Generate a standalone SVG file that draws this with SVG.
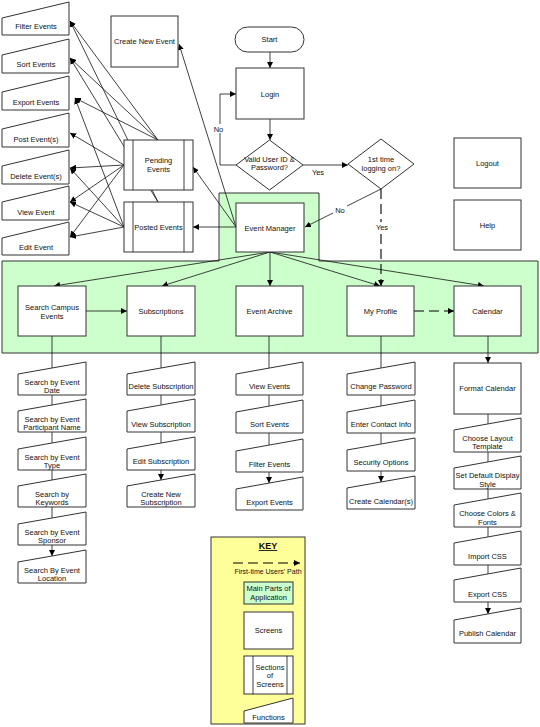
<svg xmlns="http://www.w3.org/2000/svg" width="540" height="727" viewBox="0 0 540 727">
<style>
.t{font-family:"Liberation Sans",Arial,sans-serif;font-size:7.5px;text-anchor:middle;fill:#111}
.b{fill:#fff;stroke:#333;stroke-width:1}
.g{fill:#ccffcc;stroke:#333;stroke-width:1}
.l{fill:none;stroke:#111;stroke-width:0.8}
.a{fill:none;stroke:#111;stroke-width:0.8;marker-end:url(#ah)}
.d{stroke:#000;stroke-width:1.1;stroke-dasharray:10,5}
.lbl{fill:#fff}
</style>
<defs>
<marker id="ah" viewBox="0 0 10 10" refX="10" refY="5" markerWidth="6" markerHeight="6" orient="auto" markerUnits="userSpaceOnUse"><path d="M0,0 L10,5 L0,10 z" fill="#000"/></marker>
</defs>
<rect width="540" height="727" fill="#fff"/>
<!-- green band -->
<g id="main-parts">
<path class="g" d="M2,261 H219 V193 H319 V261 H538 V353 H2 Z"/>
</g>
<!-- connectors -->
<g id="connectors">
<!-- column lines -->
<line class="a" x1="52" y1="336" x2="52" y2="556"/>
<line class="a" x1="161" y1="336" x2="161" y2="480"/>
<line class="a" x1="269" y1="336" x2="269" y2="483"/>
<line class="a" x1="381" y1="336" x2="381" y2="482"/>
<line class="a" x1="488" y1="336" x2="488" y2="363"/>
<line class="a" x1="488" y1="414" x2="488" y2="614"/>
<!-- posted events top lines (behind pending) -->
<line class="a" x1="158" y1="202" x2="70" y2="21"/>
<line class="a" x1="158" y1="202" x2="70" y2="58"/>
<!-- pending top -->
<line class="a" x1="158" y1="140" x2="70" y2="21"/>
<line class="a" x1="158" y1="140" x2="70" y2="58"/>
<line class="a" x1="158" y1="140" x2="75" y2="98"/>
<!-- pending left -->
<line class="a" x1="124" y1="165" x2="70" y2="133"/>
<line class="a" x1="124" y1="165" x2="70" y2="168"/>
<line class="a" x1="124" y1="165" x2="70" y2="202"/>
<line class="a" x1="124" y1="165" x2="70" y2="237"/>
<!-- posted left -->
<line class="a" x1="124" y1="227" x2="75" y2="98"/>
<line class="a" x1="124" y1="227" x2="70" y2="168"/>
<line class="a" x1="124" y1="227" x2="70" y2="202"/>
<line class="a" x1="124" y1="227" x2="70" y2="237"/>
<!-- event manager left -->
<line class="a" x1="236" y1="227" x2="179" y2="44"/>
<line class="a" x1="236" y1="227" x2="193" y2="167"/>
<line class="a" x1="236" y1="227" x2="193" y2="227"/>
<!-- start/login flow -->
<line class="a" x1="270" y1="52" x2="270" y2="68"/>
<line class="a" x1="270" y1="119" x2="270" y2="140"/>
<polyline class="a" points="236,165 220,165 220,94 236,94"/>
<line class="a" x1="303" y1="165" x2="348" y2="165"/>
<line class="a" x1="381" y1="189" x2="305" y2="227"/>
<line class="a d" x1="381" y1="189" x2="381" y2="286"/>
<!-- event manager to main parts -->
<line class="a" x1="270" y1="252" x2="54" y2="286"/>
<line class="a" x1="270" y1="252" x2="162" y2="286"/>
<line class="a" x1="270" y1="252" x2="270" y2="286"/>
<line class="a" x1="270" y1="252" x2="380" y2="286"/>
<line class="a" x1="270" y1="252" x2="484" y2="286"/>
<line class="a" x1="86" y1="311" x2="127" y2="311"/>
<line class="a d" x1="414" y1="311" x2="454" y2="311"/>
<!-- labels -->
<rect class="lbl" x="212" y="124" width="13" height="9"/>
<text class="t" x="218.5" y="131.5">No</text>
<text class="t" x="318" y="174.5">Yes</text>
<rect class="lbl" x="333" y="205" width="14" height="9"/>
<text class="t" x="340" y="212.5">No</text>
<rect class="lbl" x="374" y="222" width="16" height="9"/>
<text class="t" x="382" y="229.5">Yes</text>
</g>
<!-- left function boxes -->
<g id="f-filter"><path class="b" d="M2,18 L69,2 L69,35 L2,35 Z"/><text class="t" x="36" y="28.5">Filter Events</text></g>
<g id="f-sort"><path class="b" d="M2,55 L69,39 L69,73 L2,73 Z"/><text class="t" x="36" y="66.5">Sort Events</text></g>
<g id="f-export"><path class="b" d="M2,92 L69,76 L69,110 L2,110 Z"/><text class="t" x="36" y="104.5">Export Events</text></g>
<g id="f-post"><path class="b" d="M2,129 L69,113 L69,147 L2,147 Z"/><text class="t" x="36" y="141.5">Post Event(s)</text></g>
<g id="f-delete"><path class="b" d="M2,166 L69,150 L69,184 L2,184 Z"/><text class="t" x="36" y="178.5">Delete Event(s)</text></g>
<g id="f-view"><path class="b" d="M2,202 L69,186 L69,220 L2,220 Z"/><text class="t" x="36" y="214.5">View Event</text></g>
<g id="f-edit"><path class="b" d="M2,238 L69,222 L69,255 L2,255 Z"/><text class="t" x="36" y="249.5">Edit Event</text></g>
<!-- sections -->
<g id="pending"><rect class="b" x="124" y="140" width="69" height="50"/><line class="l" x1="133" y1="140" x2="133" y2="190"/><line class="l" x1="184" y1="140" x2="184" y2="190"/><text class="t" x="158.5" y="162.5">Pending</text><text class="t" x="158.5" y="171.5">Events</text></g>
<g id="posted"><rect class="b" x="124" y="202" width="69" height="50"/><line class="l" x1="133" y1="202" x2="133" y2="252"/><line class="l" x1="184" y1="202" x2="184" y2="252"/><text class="t" x="158.5" y="229.5">Posted Events</text></g>
<!-- screens -->
<g id="create-new"><rect class="b" x="111" y="16" width="67" height="51"/><text class="t" x="144.5" y="43.5">Create New Event</text></g>
<g id="start"><rect class="b" x="235" y="27" width="69" height="25" rx="12.5"/><text class="t" x="269.5" y="41.5">Start</text></g>
<g id="login"><rect class="b" x="236" y="68" width="68" height="51"/><text class="t" x="270" y="96.5">Login</text></g>
<g id="valid"><path class="b" d="M269.5,140 L303,165 L269.5,190 L236,165 Z"/><text class="t" x="269.5" y="161.5">Valid User ID &amp;</text><text class="t" x="269.5" y="169.5">Password?</text></g>
<g id="first-time"><path class="b" d="M381,139 L414,164 L381,189 L348,164 Z"/><text class="t" x="381" y="161.5">1st time</text><text class="t" x="381" y="170.5">logging on?</text></g>
<g id="event-manager"><rect class="b" x="236" y="203" width="68" height="49"/><text class="t" x="270" y="230.5">Event Manager</text></g>
<g id="logout"><rect class="b" x="454" y="138" width="67" height="50"/><text class="t" x="487.5" y="165.5">Logout</text></g>
<g id="help"><rect class="b" x="454" y="200" width="67" height="50"/><text class="t" x="487.5" y="227.5">Help</text></g>
<!-- main parts boxes -->
<g id="search-campus"><rect class="b" x="18" y="286" width="68" height="50"/><text class="t" x="52" y="309.5">Search Campus</text><text class="t" x="52" y="318.5">Events</text></g>
<g id="subscriptions"><rect class="b" x="127" y="286" width="68" height="50"/><text class="t" x="161" y="313.5">Subscriptions</text></g>
<g id="event-archive"><rect class="b" x="236" y="286" width="67" height="50"/><text class="t" x="269.5" y="313.5">Event Archive</text></g>
<g id="my-profile"><rect class="b" x="347" y="286" width="67" height="50"/><text class="t" x="380.5" y="313.5">My Profile</text></g>
<g id="calendar"><rect class="b" x="454" y="286" width="67" height="50"/><text class="t" x="487.5" y="313.5">Calendar</text></g>
<!-- column 1 -->
<g id="c1-1"><path class="b" d="M18,374 L86,362 L86,395 L18,395 Z"/><text class="t" x="52" y="384.5">Search by Event</text><text class="t" x="52" y="392.5">Date</text></g>
<g id="c1-2"><path class="b" d="M18,411 L86,399 L86,432 L18,432 Z"/><text class="t" x="52" y="421.5">Search by Event</text><text class="t" x="52" y="429.5">Participant Name</text></g>
<g id="c1-3"><path class="b" d="M18,449 L86,437 L86,470 L18,470 Z"/><text class="t" x="52" y="459.5">Search by Event</text><text class="t" x="52" y="467.5">Type</text></g>
<g id="c1-4"><path class="b" d="M18,486 L86,474 L86,507 L18,507 Z"/><text class="t" x="52" y="496.5">Search by</text><text class="t" x="52" y="504.5">Keywords</text></g>
<g id="c1-5"><path class="b" d="M18,524 L86,512 L86,545 L18,545 Z"/><text class="t" x="52" y="534.5">Search by Event</text><text class="t" x="52" y="542.5">Sponsor</text></g>
<g id="c1-6"><path class="b" d="M18,562 L86,550 L86,583 L18,583 Z"/><text class="t" x="52" y="572.5">Search By Event</text><text class="t" x="52" y="580.5">Location</text></g>
<!-- column 2 -->
<g id="c2-1"><path class="b" d="M127,374 L195,362 L195,395 L127,395 Z"/><text class="t" x="161" y="388.5">Delete Subscription</text></g>
<g id="c2-2"><path class="b" d="M127,411 L195,399 L195,432 L127,432 Z"/><text class="t" x="161" y="426.5">View Subscription</text></g>
<g id="c2-3"><path class="b" d="M127,449 L195,437 L195,470 L127,470 Z"/><text class="t" x="161" y="463.5">Edit Subscription</text></g>
<g id="c2-4"><path class="b" d="M127,486 L195,474 L195,507 L127,507 Z"/><text class="t" x="161" y="496.5">Create New</text><text class="t" x="161" y="504.5">Subscription</text></g>
<!-- column 3 -->
<g id="c3-1"><path class="b" d="M236,374 L303,362 L303,395 L236,395 Z"/><text class="t" x="269.5" y="388.5">View Events</text></g>
<g id="c3-2"><path class="b" d="M236,412 L303,400 L303,433 L236,433 Z"/><text class="t" x="269.5" y="426.5">Sort Events</text></g>
<g id="c3-3"><path class="b" d="M236,451 L303,439 L303,472 L236,472 Z"/><text class="t" x="269.5" y="466.5">Filter Events</text></g>
<g id="c3-4"><path class="b" d="M236,489 L303,477 L303,510 L236,510 Z"/><text class="t" x="269.5" y="504.5">Export Events</text></g>
<!-- column 4 -->
<g id="c4-1"><path class="b" d="M347,374 L415,362 L415,395 L347,395 Z"/><text class="t" x="381" y="388.5">Change Password</text></g>
<g id="c4-2"><path class="b" d="M347,412 L415,400 L415,433 L347,433 Z"/><text class="t" x="381" y="426.5">Enter Contact Info</text></g>
<g id="c4-3"><path class="b" d="M347,450 L415,438 L415,471 L347,471 Z"/><text class="t" x="381" y="464.5">Security Options</text></g>
<g id="c4-4"><path class="b" d="M347,488 L415,476 L415,509 L347,509 Z"/><text class="t" x="381" y="503.5">Create Calendar(s)</text></g>
<!-- column 5 -->
<g id="format-calendar"><rect class="b" x="454" y="363" width="67" height="51"/><text class="t" x="487.5" y="390.5">Format Calendar</text></g>
<g id="c5-1"><path class="b" d="M454,430 L521,418 L521,452 L454,452 Z"/><text class="t" x="487.5" y="441">Choose Layout</text><text class="t" x="487.5" y="449">Template</text></g>
<g id="c5-2"><path class="b" d="M454,468 L521,456 L521,489 L454,489 Z"/><text class="t" x="487.5" y="478">Set Default Display</text><text class="t" x="487.5" y="486.5">Style</text></g>
<g id="c5-3"><path class="b" d="M454,505 L521,493 L521,527 L454,527 Z"/><text class="t" x="487.5" y="516">Choose Colors &amp;</text><text class="t" x="487.5" y="524.5">Fonts</text></g>
<g id="c5-4"><path class="b" d="M454,543 L521,531 L521,565 L454,565 Z"/><text class="t" x="487.5" y="558.5">Import CSS</text></g>
<g id="c5-5"><path class="b" d="M454,580 L521,568 L521,602 L454,602 Z"/><text class="t" x="487.5" y="596.5">Export CSS</text></g>
<g id="c5-6"><path class="b" d="M454,620 L521,608 L521,643 L454,643 Z"/><text class="t" x="487.5" y="635.5">Publish Calendar</text></g>
<!-- key -->
<g id="key">
<rect x="211" y="537" width="94" height="187" fill="#ffff99" stroke="#333" stroke-width="1"/>
<text class="t" x="268" y="549" style="font-size:9px;font-weight:bold;text-decoration:underline">KEY</text>
<line class="a d" x1="233" y1="563" x2="300" y2="563"/>
<text class="t" x="268" y="573.5" style="font-size:7px">First-time Users' Path</text>
<rect class="g" x="244" y="582" width="49" height="22"/>
<text class="t" x="268.5" y="591">Main Parts of</text><text class="t" x="268.5" y="600">Application</text>
<rect class="b" x="244" y="612" width="49" height="37"/>
<text class="t" x="268.5" y="633">Screens</text>
<rect class="b" x="244" y="656" width="49" height="38"/>
<line class="l" x1="253" y1="656" x2="253" y2="694"/><line class="l" x1="287" y1="656" x2="287" y2="694"/>
<text class="t" x="270" y="669.5">Sections</text><text class="t" x="270" y="678">of</text><text class="t" x="270" y="686.5">Screens</text>
<path class="b" d="M244,711 L293,698 L293,723 L244,723 Z"/>
<text class="t" x="268.5" y="720">Functions</text>
</g>
</svg>
